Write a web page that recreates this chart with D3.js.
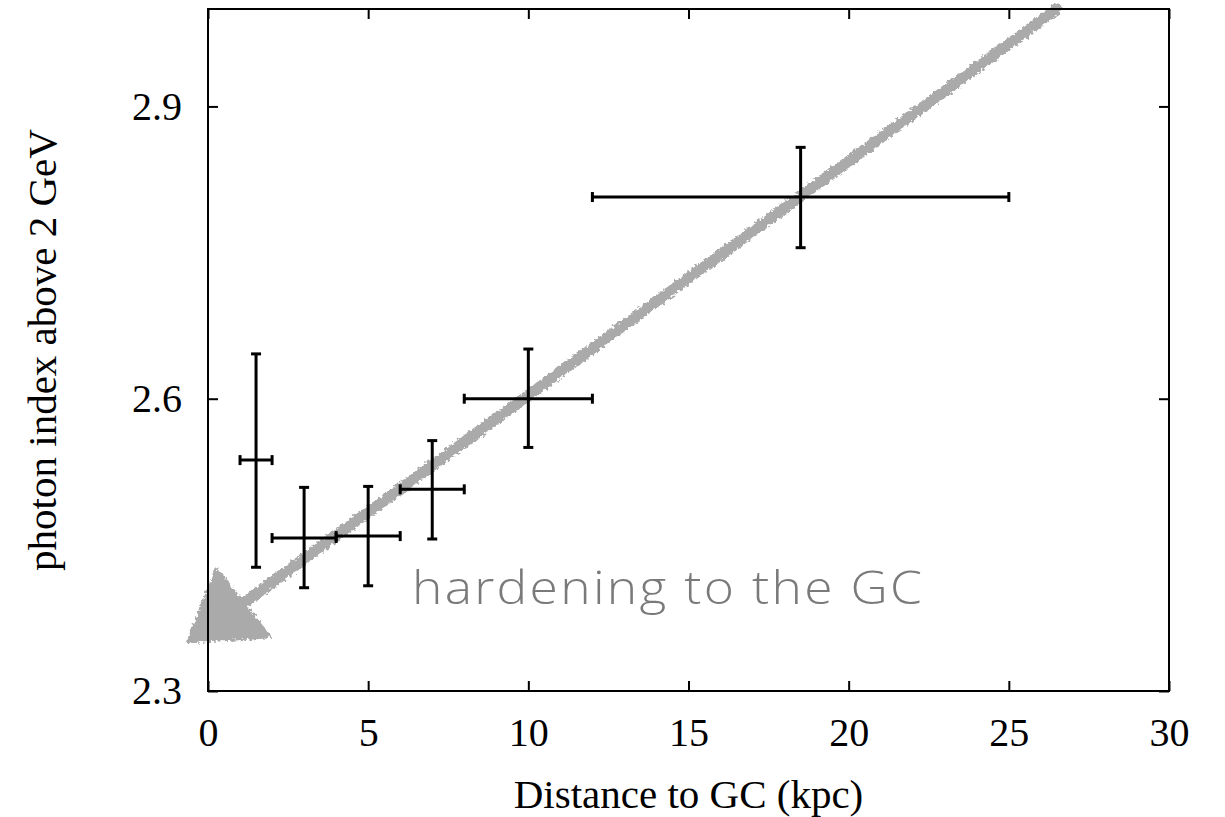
<!DOCTYPE html>
<html>
<head>
<meta charset="utf-8">
<script src="https://cdn.jsdelivr.net/npm/d3@7"></script>
<style>
  html, body { margin: 0; padding: 0; background: #fff; }
  svg { display: block; }
</style>
</head>
<body>
<svg id="chart" width="1225" height="817"></svg>
<script>
// ---- data ----
const distance   = [1.5, 3, 5, 7, 10, 18.5];
const distLow    = [1, 2, 4, 6, 8, 12];
const distHigh   = [2, 4, 6, 8, 12, 25];
const photonIdx  = [2.537, 2.457, 2.459, 2.507, 2.600, 2.807];
const idxLow     = [2.427, 2.406, 2.408, 2.456, 2.550, 2.755];
const idxHigh    = [2.646, 2.509, 2.510, 2.557, 2.651, 2.858];
const xTicks     = [0, 5, 10, 15, 20, 25, 30];
const yTicks     = [2.3, 2.6, 2.9];
const arrowStart = [26.5, 3.0];
const arrowEnd   = [0.9, 2.385];
const arrowHead  = [[0.28, 2.422], [-0.56, 2.352], [1.84, 2.357]];
const annotation = "hardening to the GC";
const xTitle = "Distance to GC (kpc)";
const yTitle = "photon index above 2 GeV";

// ---- layout ----
const L = 208, R = 1169, T = 9, B = 691;
const x = d3.scaleLinear().domain([0, 30]).range([L, R]);
const y = d3.scaleLinear().domain([2.3, 3.0]).range([B, T]);

const svg = d3.select("#chart");
const serif = "'Liberation Serif', 'Times New Roman', serif";

// rough texture filter for the hand-drawn arrow
const defs = svg.append("defs");
const f = defs.append("filter").attr("id", "rough")
  .attr("x", "-10%").attr("y", "-10%").attr("width", "120%").attr("height", "120%");
f.append("feTurbulence").attr("type", "fractalNoise").attr("baseFrequency", 0.3)
  .attr("numOctaves", 2).attr("seed", 3).attr("result", "noise");
f.append("feDisplacementMap").attr("in", "SourceGraphic").attr("in2", "noise")
  .attr("scale", 7).attr("xChannelSelector", "R").attr("yChannelSelector", "G");

// ---- arrow (drawn first, under error bars) ----
const arrowG = svg.append("g").attr("filter", "url(#rough)");
arrowG.append("line")
  .attr("x1", x(arrowStart[0])).attr("y1", y(arrowStart[1]))
  .attr("x2", x(arrowEnd[0])).attr("y2", y(arrowEnd[1]))
  .attr("stroke", "#aaaaaa").attr("stroke-width", 11).attr("stroke-linecap", "round");
arrowG.append("polygon")
  .attr("points", arrowHead.map(p => [x(p[0]), y(p[1])].join(",")).join(" "))
  .attr("fill", "#aaaaaa").attr("stroke", "#aaaaaa").attr("stroke-width", 6)
  .attr("stroke-linejoin", "round");

// ---- frame ----
svg.append("rect").attr("x", L).attr("y", T).attr("width", R - L).attr("height", B - T)
  .attr("fill", "none").attr("stroke", "#000").attr("stroke-width", 2);

// axes with inward ticks (mirrored)
const tk = 10;
const xb = svg.append("g").attr("transform", `translate(0,${B})`)
  .call(d3.axisBottom(x).tickValues(xTicks).tickSize(-tk).tickPadding(27).tickFormat(d3.format("d")));
const xt = svg.append("g").attr("transform", `translate(0,${T})`)
  .call(d3.axisTop(x).tickValues(xTicks).tickSize(-tk).tickFormat(""));
const yl = svg.append("g").attr("transform", `translate(${L},0)`)
  .call(d3.axisLeft(y).tickValues(yTicks).tickSize(-tk).tickPadding(26).tickFormat(d3.format(".1f")));
const yr = svg.append("g").attr("transform", `translate(${R},0)`)
  .call(d3.axisRight(y).tickValues(yTicks).tickSize(-tk).tickFormat(""));
[xb, xt, yl, yr].forEach(g => {
  g.select(".domain").remove();
  g.selectAll(".tick line").attr("stroke", "#000").attr("stroke-width", 2);
  g.selectAll(".tick text").attr("font-family", serif).attr("font-size", 40).attr("fill", "#000");
});
xb.selectAll(".tick text").attr("dy", "0.71em");

// ---- error bars ----
const cap = 5;
const eb = svg.append("g").attr("stroke", "#000").attr("stroke-width", 3).attr("fill", "none");
distance.forEach((d, i) => {
  const cx = x(d), cy = y(photonIdx[i]);
  const xl = x(distLow[i]), xh = x(distHigh[i]);
  const yl_ = y(idxLow[i]), yh = y(idxHigh[i]);
  eb.append("line").attr("x1", xl).attr("x2", xh).attr("y1", cy).attr("y2", cy);
  eb.append("line").attr("x1", cx).attr("x2", cx).attr("y1", yl_).attr("y2", yh);
  eb.append("line").attr("x1", xl).attr("x2", xl).attr("y1", cy - cap).attr("y2", cy + cap);
  eb.append("line").attr("x1", xh).attr("x2", xh).attr("y1", cy - cap).attr("y2", cy + cap);
  eb.append("line").attr("x1", cx - cap).attr("x2", cx + cap).attr("y1", yl_).attr("y2", yl_);
  eb.append("line").attr("x1", cx - cap).attr("x2", cx + cap).attr("y1", yh).attr("y2", yh);
});

// ---- annotation text ----
const sx = 1.12;
svg.append("text")
  .attr("transform", `translate(412,604) scale(${sx},1)`)
  .attr("font-family", "'Open Sans', Roboto, sans-serif")
  .attr("font-weight", 300)
  .attr("font-size", 46)
  .attr("textLength", 510 / sx)
  .attr("lengthAdjust", "spacing")
  .attr("fill", "#7a7a7a")
  .text(annotation);

// ---- axis titles ----
svg.append("text")
  .attr("x", (L + R) / 2).attr("y", 808)
  .attr("text-anchor", "middle")
  .attr("font-family", serif).attr("font-size", 41)
  .text(xTitle);
svg.append("text")
  .attr("transform", `translate(56,${(T + B) / 2}) rotate(-90)`)
  .attr("text-anchor", "middle")
  .attr("font-family", serif).attr("font-size", 41)
  .text(yTitle);
</script>
</body>
</html>
